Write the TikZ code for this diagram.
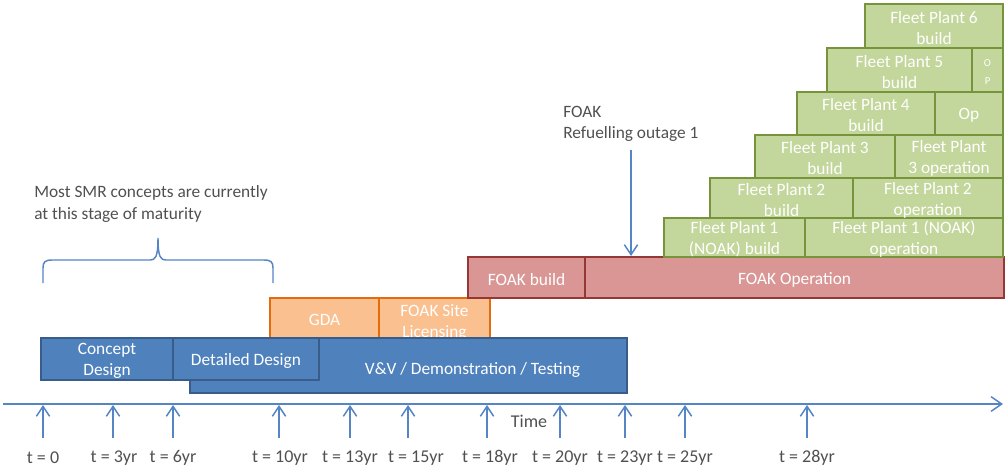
\documentclass[tikz,border=0pt]{standalone}
\usepackage{fontspec}
\setmainfont{Carlito}
\usetikzlibrary{fit,arrows.meta}
\definecolor{bfill}{HTML}{4F81BD}
\definecolor{bline}{HTML}{385D8A}
\definecolor{ofill}{HTML}{FAC090}
\definecolor{oline}{HTML}{E46C0A}
\definecolor{rfill}{HTML}{D99694}
\definecolor{rline}{HTML}{953735}
\definecolor{gfill}{HTML}{C3D69B}
\definecolor{gline}{HTML}{77933C}
\definecolor{arr}{HTML}{5585C5}
\definecolor{note}{HTML}{505050}
\newcommand\tlbox[7]{\node[#2, fit={(#3,#4) (#5,#6)}, label={[btxt]center:{#7}}] (#1) {};}
\tikzset{
  bx/.style={draw, line width=1.9pt, inner sep=0pt},
  bluebox/.style={bx, fill=bfill, draw=bline},
  orangebox/.style={bx, fill=ofill, draw=oline},
  redbox/.style={bx, fill=rfill, draw=rline},
  greenbox/.style={bx, fill=gfill, draw=gline},
  btxt/.style={text=white, font=\fontsize{13}{15.8}\selectfont, align=center, inner sep=0pt, yshift=-1.5pt},
  notetxt/.style={text=note, font=\fontsize{13}{15.8}\selectfont, align=left, inner sep=0pt, anchor=west},
  ticklab/.style={text=note, font=\fontsize{13.5}{15}\selectfont, inner sep=0pt},
  tickarrow/.style={draw=arr, line width=1.1pt, -{Straight Barb[length=7.5pt,width=10pt,line width=1.1pt]}},
  axisline/.style={draw=arr, line width=1.1pt, -{Straight Barb[length=8pt,width=11pt,line width=1.1pt]}},
  bracestyle/.style={draw=arr, line width=1.1pt}
}
\begin{document}
\begin{tikzpicture}[x=0.75pt,y=-0.75pt]
\useasboundingbox (0,0) rectangle (1008,467);

% orange
\tlbox{gda}{orangebox}{270}{298}{379}{338}{GDA}
\node[orangebox, fit={(379,298) (490,338)}, label={[btxt,yshift=-2pt]center:{FOAK Site\\Licensing}}] (fsl) {};
% blue
\node[bluebox, fit={(190,338) (627,393)}, label={[btxt,xshift=48pt,yshift=-2pt]center:{V\&V / Demonstration / Testing}}] (vv) {};
\tlbox{cd}{bluebox}{41}{338}{173}{380}{Concept\\Design}
\tlbox{dd}{bluebox}{173}{338}{319}{380}{Detailed Design}
% red
\tlbox{fb}{redbox}{468}{257}{585}{298}{FOAK build}
\tlbox{fo}{redbox}{585}{257}{1004}{298}{FOAK Operation}
% green
\tlbox{g1b}{greenbox}{664}{218}{805}{257}{Fleet Plant 1\\(NOAK) build}
\tlbox{g1o}{greenbox}{805}{218}{1003}{257}{Fleet Plant 1 (NOAK)\\operation}
\tlbox{g2b}{greenbox}{710}{178}{853}{218}{Fleet Plant 2\\build}
\tlbox{g2o}{greenbox}{853}{178}{1003}{218}{Fleet Plant 2\\operation}
\tlbox{g3b}{greenbox}{755}{135}{895}{178}{Fleet Plant 3\\build}
\tlbox{g3o}{greenbox}{895}{135}{1003}{178}{Fleet Plant\\3 operation}
\tlbox{g4b}{greenbox}{797}{92}{935}{135}{Fleet Plant 4\\build}
\tlbox{g4o}{greenbox}{935}{92}{1003}{135}{Op}
\tlbox{g5b}{greenbox}{827}{48}{972}{92}{Fleet Plant 5\\build}
\node[greenbox, fit={(972,48) (1003,92)}, label={[btxt,font=\fontsize{8}{13.5}\selectfont]center:{O\\P}}] (g5o) {};
\tlbox{g6b}{greenbox}{865}{4}{1003}{48}{Fleet Plant 6\\build}

% annotations
\node[notetxt] (maturity) at (34,204) {Most SMR concepts are currently\\at this stage of maturity};
\node[notetxt] (refuel) at (563,124) {FOAK\\Refuelling outage 1};
\coordinate (refA) at (631,150);
\coordinate (refB) at (631,256);
\draw[tickarrow] (refA) -- (refB);

% brace
\draw[bracestyle] (43,283) -- (43,268) .. controls (43,262) and (45,260) .. (52,260) -- (150,260)
  .. controls (155,260) and (158,258) .. (158,238)
  .. controls (158,258) and (161,260) .. (166,260) -- (264,260)
  .. controls (271,260) and (273,262) .. (273,268) -- (273,283);

% axis
\coordinate (ax0) at (3,404);
\coordinate (ax1) at (1003,404);
\draw[axisline] (ax0) -- (ax1);
\node[ticklab] (time) at (529,421) {Time};

\foreach \n/\ax/\lx/\t in {0/43/43/t = 0, 3/113/114/t = 3yr, 6/173/173/t = 6yr, 10/279/280/t = 10yr, 13/350/350/t = 13yr, 15/408/416/t = 15yr, 18/487/490/t = 18yr, 20/560/560/t = 20yr, 23/625/625/t = 23yr, 25/685/685/t = 25yr, 28/807/807/t = 28yr}{
  \coordinate (ta\n) at (\ax,438);
  \coordinate (tb\n) at (\ax,405);
  \draw[tickarrow] (ta\n) -- (tb\n);
  \node[ticklab] (tl\n) at (\lx,458) {\t};
}
\end{tikzpicture}
\end{document}
